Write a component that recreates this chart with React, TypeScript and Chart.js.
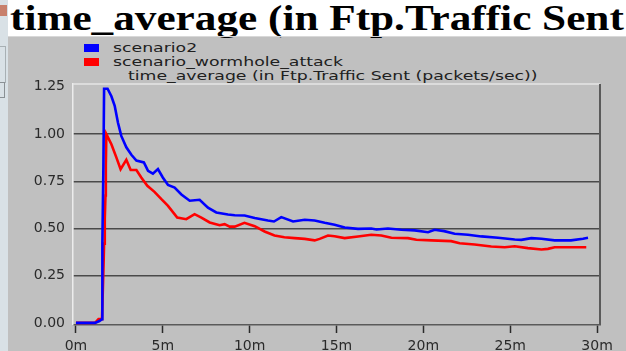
import React, { useEffect, useRef } from "react";
import { Chart, registerables } from "chart.js";

Chart.register(...registerables);

const titleText = "time_average (in Ftp.Traffic Sent";
const legendNames = ["scenario2", "scenario_wormhole_attack"];
const legendColors = ["#0000ff", "#ff0000"];
const legendSubtitle = "time_average (in Ftp.Traffic Sent (packets/sec))";

const xTicks = [0, 5, 10, 15, 20, 25, 30];
const yTicks = [0, 0.25, 0.5, 0.75, 1.0, 1.25];

// scenario2 (blue): minutes, packets/sec
const blueMinutes = [0, 1.1, 1.35, 1.5, 1.52, 1.58, 1.62, 1.82, 2.04, 2.23, 2.42, 2.61, 2.9, 3.19, 3.48, 3.91, 4.15, 4.43, 4.72, 5.0, 5.3, 5.68, 6.07, 6.55, 7.12, 7.6, 8.08, 8.75, 9.14, 9.71, 10.29, 11.05, 11.4, 11.82, 12.5, 13.17, 13.74, 14.32, 14.89, 15.47, 16.24, 17.0, 17.3, 17.96, 18.73, 19.5, 20.27, 20.65, 21.2, 21.8, 22.57, 23.34, 24.3, 25.26, 25.64, 26.22, 26.8, 27.56, 28.5, 29.19, 29.48];
const blueValues = [0, 0, 0.01, 0.02, 0.42, 0.83, 1.24, 1.24, 1.2, 1.15, 1.06, 0.99, 0.93, 0.89, 0.86, 0.85, 0.805, 0.79, 0.815, 0.77, 0.73, 0.717, 0.68, 0.647, 0.652, 0.61, 0.585, 0.574, 0.57, 0.569, 0.555, 0.542, 0.537, 0.56, 0.537, 0.546, 0.542, 0.53, 0.52, 0.505, 0.498, 0.5, 0.495, 0.5, 0.493, 0.49, 0.48, 0.493, 0.486, 0.472, 0.467, 0.458, 0.451, 0.442, 0.44, 0.449, 0.446, 0.437, 0.437, 0.446, 0.451];

// scenario_wormhole_attack (red)
const redMinutes = [0, 1.1, 1.3, 1.5, 1.6, 1.62, 1.66, 1.7, 1.72, 1.75, 2.04, 2.33, 2.57, 2.9, 3.15, 3.48, 3.76, 4.11, 4.52, 4.92, 5.3, 5.83, 6.35, 6.83, 7.22, 7.7, 8.27, 8.56, 8.85, 9.14, 9.7, 10.29, 10.86, 11.43, 12.0, 12.59, 13.17, 13.74, 14.03, 14.51, 14.89, 15.47, 16.24, 17.0, 17.58, 18.16, 19.11, 19.6, 20.46, 21.6, 22.09, 22.95, 23.91, 24.68, 25.26, 26.02, 26.8, 27.17, 27.56, 28.5, 29.38];
const redValues = [0, 0, 0.02, 0.02, 0.345, 0.42, 0.55, 0.675, 0.83, 1.0, 0.946, 0.875, 0.814, 0.864, 0.81, 0.81, 0.77, 0.726, 0.694, 0.655, 0.62, 0.558, 0.549, 0.576, 0.558, 0.532, 0.517, 0.523, 0.51, 0.51, 0.53, 0.512, 0.484, 0.463, 0.454, 0.449, 0.445, 0.437, 0.445, 0.463, 0.459, 0.449, 0.458, 0.467, 0.463, 0.451, 0.449, 0.44, 0.437, 0.433, 0.422, 0.415, 0.405, 0.401, 0.406, 0.396, 0.389, 0.392, 0.401, 0.401, 0.401];

const W = 626;
const H = 351;
const tickFont = { family: "'DejaVu Sans', sans-serif", size: 14 };

const frameBorders = {
  id: "frameBorders",
  afterDraw(chart: any) {
    const { ctx, chartArea: a } = chart;
    ctx.save();
    ctx.strokeStyle = "#e6e6e6";
    ctx.lineWidth = 1.5;
    ctx.beginPath();
    ctx.moveTo(a.left, a.top);
    ctx.lineTo(a.right, a.top);
    ctx.stroke();
    ctx.strokeStyle = "#5a5a5a";
    ctx.lineWidth = 2;
    ctx.beginPath();
    ctx.moveTo(a.right, a.top);
    ctx.lineTo(a.right, a.bottom);
    ctx.stroke();
    ctx.restore();
  },
};

const legendText: React.CSSProperties = {
  position: "absolute",
  whiteSpace: "nowrap",
  fontFamily: "'DejaVu Sans', sans-serif",
  fontSize: 13,
  lineHeight: "15px",
  color: "#202020",
  transformOrigin: "left top",
  transform: "scaleX(1.33)",
};

export default function App() {
  const ref = useRef<HTMLCanvasElement>(null);

  useEffect(() => {
    if (!ref.current) return;
    const chart = new Chart(ref.current, {
      type: "line",
      data: {
        datasets: [
          {
            label: legendNames[0],
            data: blueMinutes.map((m, i) => ({ x: m, y: blueValues[i] })),
            borderColor: legendColors[0],
            borderWidth: 2.6,
            pointRadius: 0,
            tension: 0,
          },
          {
            label: legendNames[1],
            data: redMinutes.map((m, i) => ({ x: m, y: redValues[i] })),
            borderColor: legendColors[1],
            borderWidth: 2.6,
            pointRadius: 0,
            tension: 0,
          },
        ],
      },
      options: {
        animation: false,
        responsive: false,
        events: [],
        layout: { padding: { left: 0, right: 26, top: 84, bottom: 0 } },
        plugins: { legend: { display: false }, tooltip: { enabled: false } },
        scales: {
          x: {
            type: "linear",
            min: -0.17,
            max: 30.17,
            afterBuildTicks: (s: any) => {
              s.ticks = xTicks.map((v) => ({ value: v }));
            },
            afterFit: (s: any) => {
              s.height = 26;
            },
            ticks: {
              callback: (v: any) => v + "m",
              font: tickFont,
              color: "#2a2a2a",
              padding: 5,
              maxRotation: 0,
              autoSkip: false,
            },
            grid: {
              drawOnChartArea: false,
              drawTicks: true,
              tickLength: 8,
              tickColor: "#2a2a2a",
              tickWidth: 1.5,
            },
            border: { display: true, color: "#5a5a5a", width: 1.5 },
          },
          y: {
            type: "linear",
            min: -0.011,
            max: 1.265,
            afterBuildTicks: (s: any) => {
              s.ticks = yTicks.map((v) => ({ value: v }));
            },
            afterFit: (s: any) => {
              s.width = 73;
            },
            ticks: {
              callback: (v: any) => Number(v).toFixed(2),
              font: tickFont,
              color: "#2a2a2a",
              padding: 8,
            },
            grid: {
              drawTicks: false,
              lineWidth: 1.5,
              color: (c: any) =>
                c.tick && c.tick.value > 0.1 && c.tick.value < 1.2 ? "#4a4a4a" : "rgba(0,0,0,0)",
            },
            border: { display: true, color: "#ececec", width: 1.5 },
          },
        },
      },
      plugins: [frameBorders],
    });
    return () => chart.destroy();
  }, []);

  return (
    <div style={{ position: "fixed", left: 0, top: 0, width: W, height: H, overflow: "hidden", background: "#c0c0c0" }}>
      <div style={{ position: "absolute", left: 0, top: 0, width: 8, height: H, background: "#d9e1e6" }} />
      <div style={{ position: "absolute", left: 0, top: 5, width: 7, height: 11, background: "#c8806c" }} />
      <div style={{ position: "absolute", left: 0, top: 46, width: 5, height: 35, border: "1px solid #a8b0b4", borderLeft: "none" }} />
      <div style={{ position: "absolute", left: 0, top: 82, width: 4, height: 14, border: "1px solid #8a9094", borderLeft: "none" }} />
      <div style={{ position: "absolute", left: 8, top: 0, width: W - 8, height: 36, background: "#ffffff" }} />
      <div
        style={{
          position: "absolute",
          left: 10,
          top: 0,
          whiteSpace: "nowrap",
          fontFamily: "'Liberation Serif', serif",
          fontWeight: "bold",
          fontSize: 35,
          lineHeight: "38px",
          color: "#000",
          transformOrigin: "left top",
          transform: "scaleX(1.235)",
        }}
      >
        {titleText}
      </div>
      <div style={{ position: "absolute", left: 8, top: 36, width: W - 8, height: 1, background: "#d8d8d8" }} />
      {legendNames.map((n, i) => (
        <React.Fragment key={n}>
          <div style={{ position: "absolute", left: 84, top: 44 + i * 13.5, width: 15, height: 8, background: legendColors[i] }} />
          <div style={{ ...legendText, left: 113, top: 40 + i * 14 }}>{n}</div>
        </React.Fragment>
      ))}
      <div style={{ ...legendText, left: 128, top: 68 }}>{legendSubtitle}</div>
      <canvas ref={ref} width={W} height={H} style={{ position: "absolute", left: 0, top: 0, width: W, height: H }} />
    </div>
  );
}
